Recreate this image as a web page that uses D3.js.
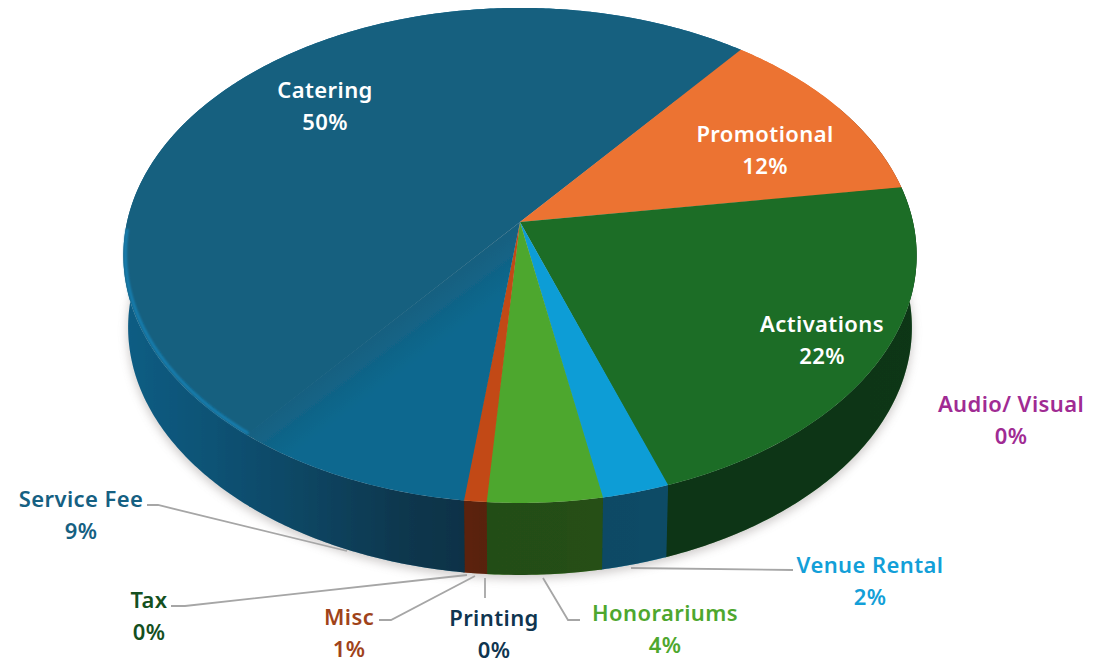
<!DOCTYPE html>
<html>
<head>
<meta charset="utf-8">
<script src="https://cdn.jsdelivr.net/npm/d3@7"></script>
<style>
  body { margin: 0; background: #fff; }
  text { font-family: "Noto Sans", sans-serif; font-weight: 600; font-size: 22px; letter-spacing: 0.4px; text-anchor: middle; }
</style>
</head>
<body>
<svg id="chart" width="1110" height="664"></svg>
<script>
// clockwise from the catering/service fee seam
const categories = ["Catering", "Promotional", "Activations", "Audio/ Visual", "Venue Rental", "Honorariums", "Misc", "Printing", "Tax", "Service Fee"];
const shares = [50, 12, 22, 0, 2.4, 4.1, 0.8, 0, 0, 8.7];
const sliceColors = ["#17607f", "#ec7331", "#1b6d27", "#a02b93", "#119dd6", "#4ea72e", "#c24a14", "#0e2841", "#124f1a", "url(#feeTop)"];
const wallColors = ["#0f6a96", "#ec7331", "#1b6d27", "#a02b93", "#119dd6", "#4ea72e", "#c24a14", "#0e2841", "#124f1a", "#0f6a96"];
const labelColors = ["#ffffff", "#ffffff", "#ffffff", "#a02b93", "#139fd8", "#4ea72e", "#a0431a", "#0f3550", "#14501e", "#156082"];

// label centres, same order as categories
const labelX = [325, 765, 822, 1011, 870, 665, 349, 494, 149, 81];
const labelY = [90, 134, 324, 404, 565, 613, 617, 618, 600, 499];

const leaders = [
  [[147, 505], [158, 505], [347, 551]],
  [[171, 606], [185, 606], [467, 575]],
  [[379, 620], [391, 620], [475, 576]],
  [[485, 578], [485, 598]],
  [[543, 578], [568, 620], [580, 620]],
  [[631, 568], [793, 570]],
];

const svg = d3.select("#chart");

const tilt = 0.135; // perspective of the tilted disc
const depth = 72;
const x = d3.scaleLinear().domain([-1, 1]).range([520 - 393, 520 + 393]);
const y = d3.scaleLinear().domain([-1, 1]).range([222 - 243, 222 + 243]);

function project(a, shrink, drop) {
  const u = Math.sin(a), v = -Math.cos(a), w = 1 / (1 - tilt * v);
  return [x(u * w * shrink), y(v * w) + drop];
}

function arcPoints(a0, a1, shrink, drop) {
  const n = Math.max(2, Math.ceil((a1 - a0) / 0.01));
  return d3.range(n + 1).map((i) => project(a0 + ((a1 - a0) * i) / n, shrink, drop));
}

const line = d3.line();
const rad = (deg) => (deg * Math.PI) / 180;

const pie = d3.pie().sort(null).startAngle(rad(218.4)).endAngle(rad(218.4 + 360)).value((d) => d);
const slices = pie(shares)
  .map((d, i) => ({ start: d.startAngle, end: d.endAngle, color: sliceColors[i], wall: wallColors[i] }))
  .filter((d) => d.end > d.start);

const defs = svg.append("defs");
defs.append("filter").attr("id", "soft").append("feGaussianBlur").attr("stdDeviation", 0.55);
defs.append("filter").attr("id", "shadowBlur")
  .attr("x", "-10%").attr("y", "-10%").attr("width", "120%").attr("height", "120%")
  .append("feGaussianBlur").attr("stdDeviation", 5);

const shade = defs.append("linearGradient").attr("id", "wallShade")
  .attr("gradientUnits", "userSpaceOnUse")
  .attr("x1", 123).attr("x2", 917).attr("y1", 0).attr("y2", 0);
[[0, 0.12], [0.16, 0.27], [0.35, 0.48], [0.45, 0.54], [1, 0.5]].forEach((s) => {
  shade.append("stop").attr("offset", s[0]).attr("stop-color", "#000").attr("stop-opacity", s[1]);
});

// service fee fades in from the catering colour across the seam
const feeTop = defs.append("linearGradient").attr("id", "feeTop")
  .attr("gradientUnits", "userSpaceOnUse")
  .attr("x1", 380).attr("y1", 327).attr("x2", 410).attr("y2", 367);
feeTop.append("stop").attr("offset", 0).attr("stop-color", "#17607f");
feeTop.append("stop").attr("offset", 1).attr("stop-color", "#0b688f");

// soft shadow under the disc
svg.append("path")
  .attr("d", line(arcPoints(0, 2 * Math.PI, 0.99, depth + 4)) + "Z")
  .attr("fill", "#8a8280")
  .attr("opacity", 0.4)
  .attr("filter", "url(#shadowBlur)");

const disc = svg.append("g").attr("filter", "url(#soft)");

// side wall, each piece runs a little under the next so no seam shows
const wallPath = (a0, a1) =>
  line(arcPoints(a0, a1, 1, 0).concat(arcPoints(a0, a1, 0.988, depth).reverse())) + "Z";
disc.selectAll(".wall")
  .data(slices)
  .enter()
  .append("path")
  .attr("class", "wall")
  .attr("d", (d) => wallPath(d.start, d.end + 0.004))
  .attr("fill", (d) => d.wall);
disc.append("path")
  .attr("d", wallPath(rad(60), rad(300)))
  .attr("fill", "url(#wallShade)");

// top face
const hub = [x(0), y(0)];
disc.selectAll(".slice")
  .data(slices)
  .enter()
  .append("path")
  .attr("class", "slice")
  .attr("d", (d) => line([hub].concat(arcPoints(d.start, d.end + 0.002, 1, 0))) + "Z")
  .attr("fill", (d) => d.color);

// light rim on the front edge
const rimBlur = defs.append("filter").attr("id", "rimBlur")
  .attr("x", "-10%").attr("y", "-10%").attr("width", "120%").attr("height", "120%");
rimBlur.append("feGaussianBlur").attr("stdDeviation", 1.3);
const rimFrom = rad(100), rimTo = rad(268);
disc.selectAll(".rim")
  .data(slices)
  .enter()
  .append("path")
  .attr("class", "rim")
  .attr("d", (d) => {
    const a0 = Math.max(d.start, rimFrom), a1 = Math.min(d.end, rimTo);
    return a1 > a0 ? line(arcPoints(a0, a1, 0.995, -1.5)) : null;
  })
  .attr("fill", "none")
  .attr("stroke", (d) => d3.color(d.wall).brighter(0.8))
  .attr("stroke-width", 3)
  .attr("opacity", (d) => (d.wall === "#0f6a96" ? 0.7 : 0.25))
  .attr("filter", "url(#rimBlur)");

// leader lines
svg.selectAll(".leader")
  .data(leaders)
  .enter()
  .append("path")
  .attr("class", "leader")
  .attr("d", line)
  .attr("fill", "none")
  .attr("stroke", "#a6a6a6")
  .attr("stroke-width", 1.8);

// labels
const label = svg.selectAll(".label")
  .data(categories)
  .enter()
  .append("g")
  .attr("class", "label")
  .attr("fill", (d, i) => labelColors[i]);

label.append("text")
  .attr("x", (d, i) => labelX[i])
  .attr("y", (d, i) => labelY[i] + 8)
  .text((d) => d);

label.append("text")
  .attr("x", (d, i) => labelX[i])
  .attr("y", (d, i) => labelY[i] + 40)
  .text((d, i) => Math.round(shares[i]) + "%");
</script>
</body>
</html>
